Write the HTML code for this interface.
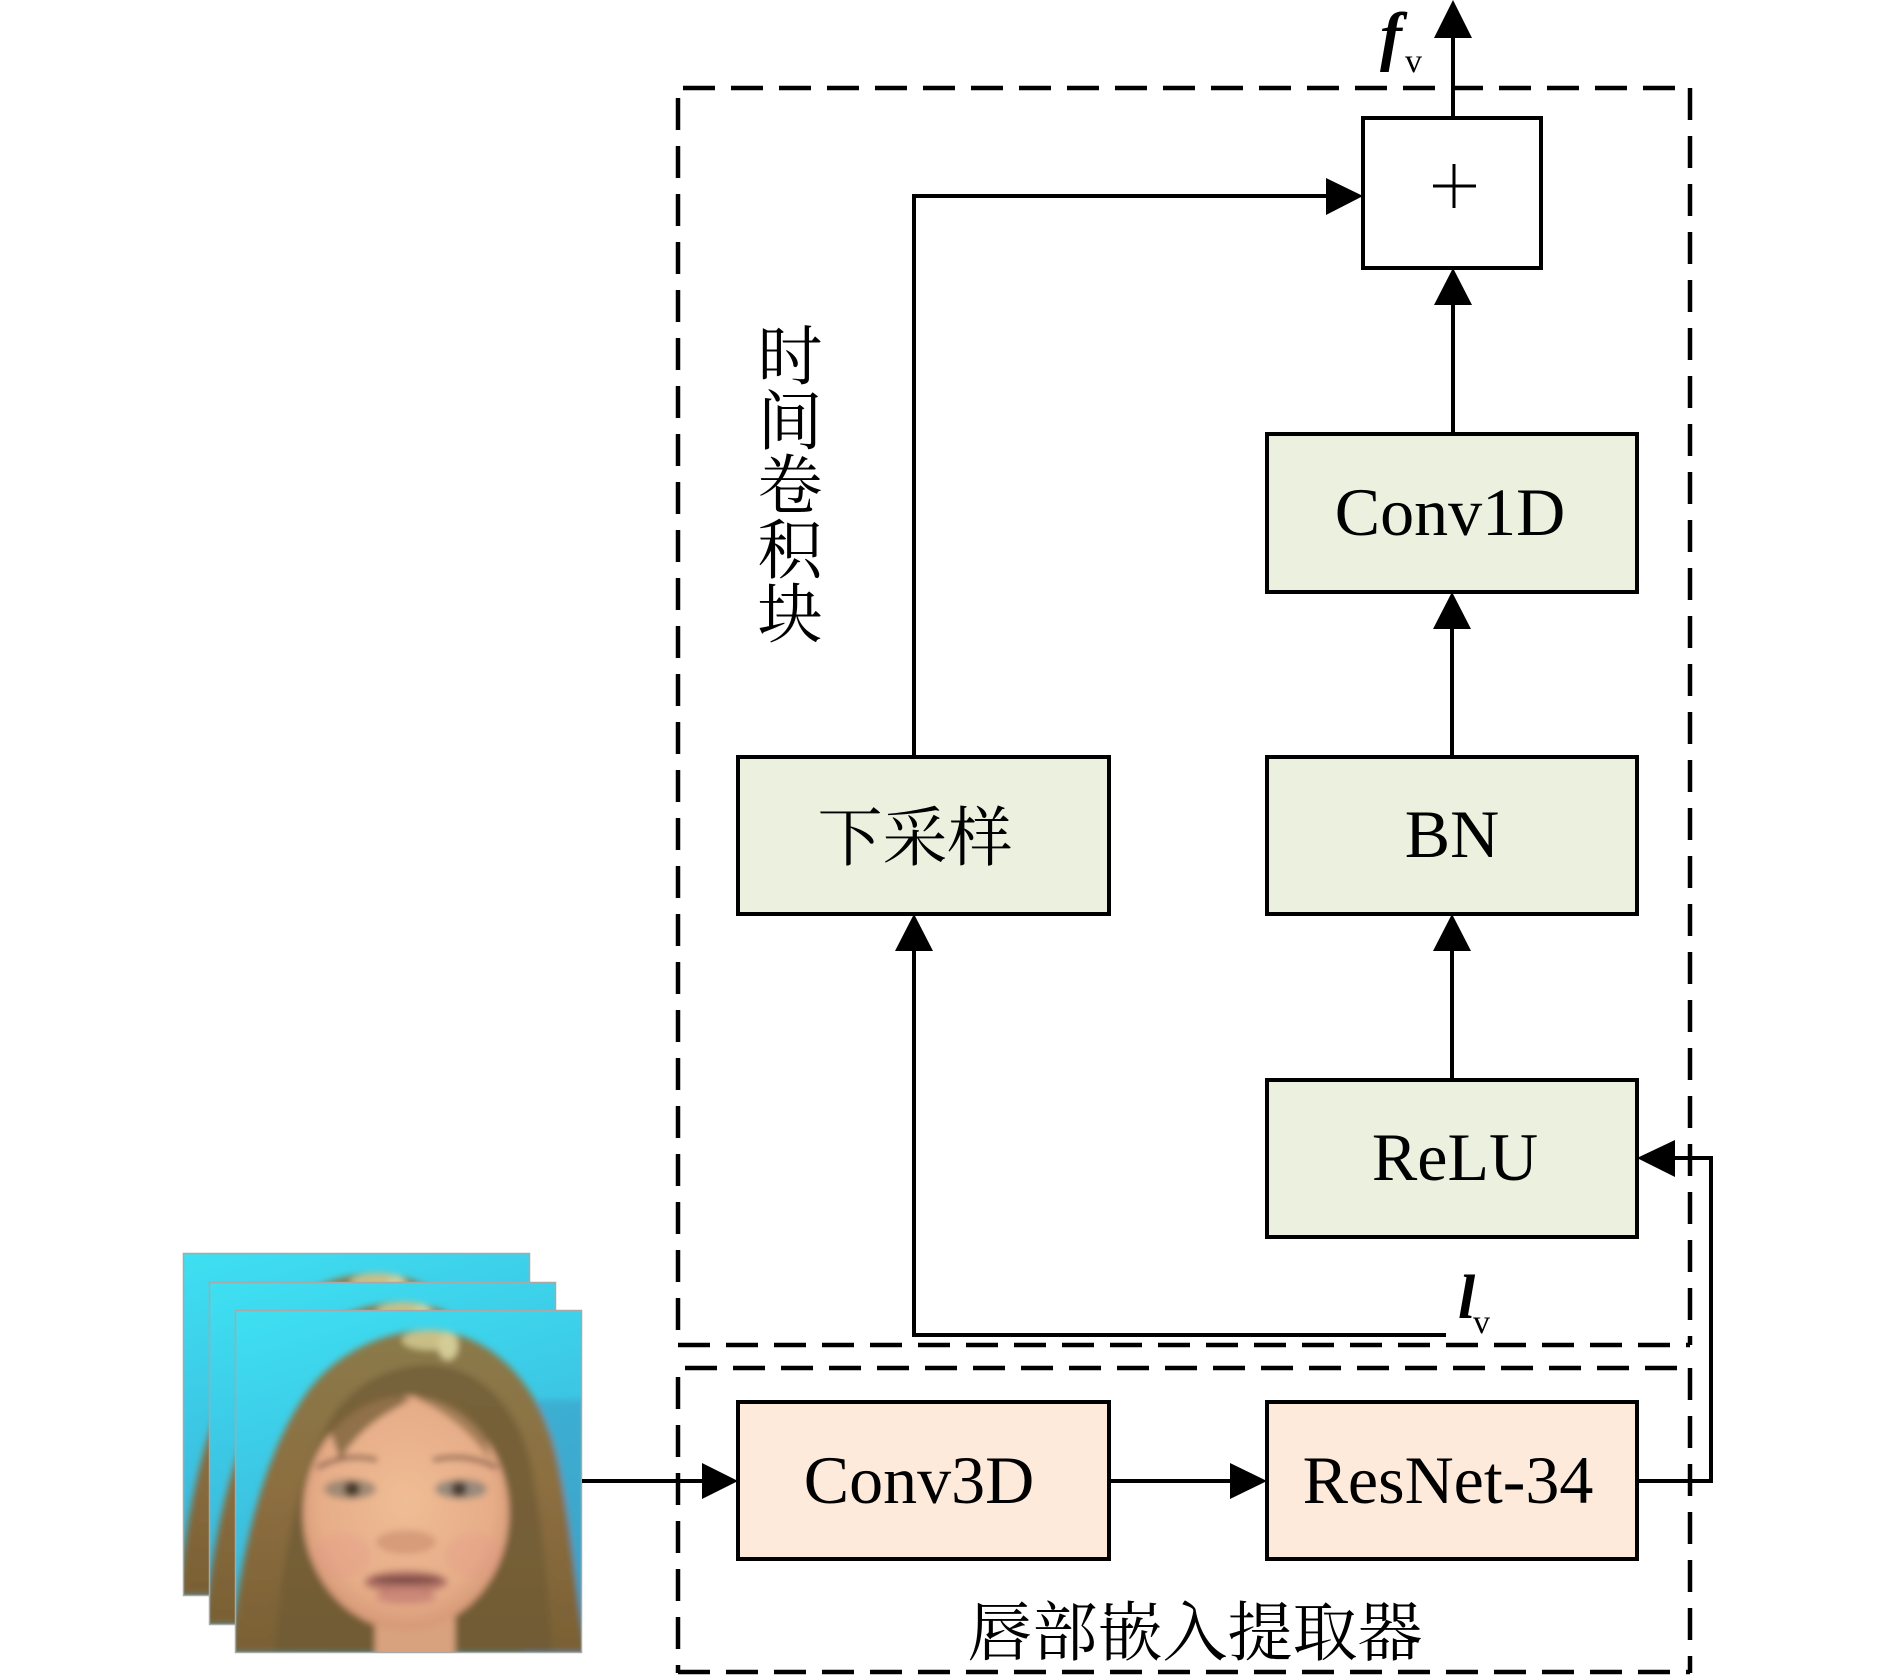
<!DOCTYPE html>
<html>
<head>
<meta charset="utf-8">
<style>
  html,body{margin:0;padding:0;background:#fff;}
  svg{display:block;}
</style>
</head>
<body>
<svg width="1890" height="1675" viewBox="0 0 1890 1675" xmlns="http://www.w3.org/2000/svg">
  <defs>
    <linearGradient id="bg" x1="0" y1="0" x2="0.3" y2="1">
      <stop offset="0" stop-color="#3ee0f2"/>
      <stop offset="0.5" stop-color="#3cc6e4"/>
      <stop offset="1" stop-color="#3fa8cc"/>
    </linearGradient>
    <linearGradient id="hair" x1="0" y1="0" x2="0" y2="1">
      <stop offset="0" stop-color="#8a7a4a"/>
      <stop offset="0.5" stop-color="#8c6e40"/>
      <stop offset="1" stop-color="#7a6034"/>
    </linearGradient>
    <radialGradient id="skin" cx="0.5" cy="0.45" r="0.6">
      <stop offset="0" stop-color="#efbd95"/>
      <stop offset="0.7" stop-color="#e6ad88"/>
      <stop offset="1" stop-color="#cf9070"/>
    </radialGradient>
    <filter id="blur" x="-5%" y="-5%" width="110%" height="110%">
      <feGaussianBlur stdDeviation="3.5"/>
    </filter>
    <clipPath id="clipFace">
      <rect x="0" y="0" width="347" height="343"/>
    </clipPath>
    <g id="face">
      <g clip-path="url(#clipFace)">
        <rect x="0" y="0" width="347" height="343" fill="url(#bg)"/>
        <g filter="url(#blur)">
          <rect x="290" y="90" width="60" height="260" fill="#3a9ec6" opacity="0.6"/>
          <path d="M -5,343 C 5,250 25,150 70,85 C 100,42 150,20 195,20 C 250,22 300,65 320,140 C 335,200 340,280 352,343 Z" fill="url(#hair)"/>
          <path d="M 40,343 C 45,260 60,170 95,110 C 120,70 160,55 195,55 C 240,57 280,90 295,150 C 308,210 312,280 318,343 Z" fill="#6e5a34" opacity="0.7"/>
          <ellipse cx="195" cy="30" rx="28" ry="10" fill="#c9bf86"/>
          <ellipse cx="213" cy="36" rx="10" ry="14" fill="#d4cc96"/>
          <rect x="140" y="290" width="80" height="60" fill="#d9a27e"/>
          <ellipse cx="171" cy="203" rx="103" ry="117" fill="url(#skin)"/>
          <path d="M 95,120 C 120,85 150,75 175,90 C 160,100 130,110 105,150 Z" fill="#7a6238" opacity="0.8"/>
          <path d="M 250,120 C 230,88 205,78 180,88 C 205,100 230,115 255,150 Z" fill="#7a6238" opacity="0.6"/>
          <ellipse cx="108" cy="245" rx="28" ry="22" fill="#e3958a" opacity="0.25"/>
          <ellipse cx="238" cy="245" rx="28" ry="22" fill="#e3958a" opacity="0.25"/>
          <path d="M 82,158 Q 110,142 142,150" stroke="#7a5444" stroke-width="4" fill="none"/>
          <path d="M 198,150 Q 232,142 262,158" stroke="#7a5444" stroke-width="4" fill="none"/>
          <ellipse cx="115" cy="179" rx="26" ry="10" fill="#a08a74"/>
          <ellipse cx="226" cy="179" rx="26" ry="10" fill="#9a8a7c"/>
          <circle cx="117" cy="179" r="8" fill="#4a3a2c"/>
          <circle cx="224" cy="179" r="8" fill="#4a3e36"/>
          <ellipse cx="171" cy="232" rx="30" ry="12" fill="#c98a6c" opacity="0.6"/>
          <ellipse cx="171" cy="272" rx="42" ry="12" fill="#b8786a"/>
          <ellipse cx="171" cy="270" rx="36" ry="4" fill="#7a4a44"/>
          <ellipse cx="171" cy="287" rx="30" ry="7" fill="#cc8878"/>
        </g>
      </g>
      <rect x="0.5" y="0.5" width="346" height="342" fill="none" stroke="#a8a8a8" stroke-width="1.5"/>
    </g>
  </defs>

  <!-- face stack -->
  <use href="#face" x="183" y="1253"/>
  <use href="#face" x="209" y="1282"/>
  <use href="#face" x="235" y="1310"/>

  <!-- dashed boxes -->
  <g stroke="#000" stroke-width="4.5" stroke-dasharray="32 16" fill="none">
    <line x1="683" y1="88" x2="1690" y2="88"/>
    <line x1="1690" y1="88" x2="1690" y2="1345"/>
    <line x1="678" y1="98" x2="678" y2="1345"/>
    <line x1="678" y1="1345" x2="1690" y2="1345"/>
    <line x1="685" y1="1368" x2="1690" y2="1368"/>
    <line x1="678" y1="1377" x2="678" y2="1673"/>
    <line x1="678" y1="1672" x2="1690" y2="1672"/>
    <line x1="1690" y1="1368" x2="1690" y2="1673"/>
  </g>

  <!-- connectors -->
  <g stroke="#000" stroke-width="4" fill="none" stroke-linejoin="miter">
    <line x1="1453" y1="36" x2="1453" y2="118"/>
    <line x1="1453" y1="303" x2="1453" y2="434"/>
    <line x1="1452" y1="627" x2="1452" y2="757"/>
    <line x1="1452" y1="949" x2="1452" y2="1080"/>
    <polyline points="914,757 914,196 1328,196"/>
    <polyline points="1446,1335 914,1335 914,949"/>
    <line x1="582" y1="1481" x2="704" y2="1481"/>
    <line x1="1109" y1="1481" x2="1232" y2="1481"/>
    <polyline points="1637,1481 1711,1481 1711,1158 1673,1158"/>
  </g>

  <!-- arrowheads -->
  <g fill="#000">
    <polygon points="1453,0 1434,38 1472,38"/>
    <polygon points="1363,196 1326,178 1326,215"/>
    <polygon points="1453,268 1434,305 1472,305"/>
    <polygon points="1452,592 1433,629 1471,629"/>
    <polygon points="1452,914 1433,951 1471,951"/>
    <polygon points="914,914 895,951 933,951"/>
    <polygon points="1637,1158 1675,1140 1675,1177"/>
    <polygon points="738,1481 702,1463 702,1499"/>
    <polygon points="1267,1481 1230,1463 1230,1499"/>
  </g>

  <!-- boxes -->
  <g stroke="#000" stroke-width="4">
    <rect x="1363" y="118" width="178" height="150" fill="#fff"/>
    <rect x="1267" y="434" width="370" height="158" fill="#ebf1de"/>
    <rect x="1267" y="757" width="370" height="157" fill="#ebf1de"/>
    <rect x="1267" y="1080" width="370" height="157" fill="#ebf1de"/>
    <rect x="738" y="757" width="371" height="157" fill="#ebf1de"/>
    <rect x="738" y="1402" width="371" height="157" fill="#fdeadb"/>
    <rect x="1267" y="1402" width="370" height="157" fill="#fdeadb"/>
  </g>

  <!-- plus sign -->
  <g stroke="#000" stroke-width="3">
    <line x1="1433" y1="186" x2="1476" y2="186"/>
    <line x1="1454" y1="164" x2="1454" y2="208"/>
  </g>

  <!-- Latin labels -->
  <g font-family="'Liberation Serif', serif" font-size="68" fill="#000" text-anchor="middle">
    <text x="1450" y="535">Conv1D</text>
    <text x="1452" y="857">BN</text>
    <text x="1455" y="1180">ReLU</text>
    <text x="919" y="1503">Conv3D</text>
    <text x="1448" y="1503">ResNet-34</text>
  </g>

  <!-- math labels -->
  <g font-family="'Liberation Serif', serif" fill="#000">
    <text x="1380" y="58" font-size="66" font-weight="bold" font-style="italic">f</text>
    <text x="1405" y="72" font-size="34">v</text>
    <text x="1458" y="1318" font-size="62" font-weight="bold" font-style="italic">l</text>
    <text x="1473" y="1333" font-size="34">v</text>
  </g>

  <!-- CJK labels -->
  <g font-family="'Liberation Serif', 'Noto Serif CJK SC', 'Noto Sans CJK SC', serif" font-size="65" fill="#000" text-anchor="middle">
    <text x="790" y="379">时</text>
    <text x="790" y="444">间</text>
    <text x="790" y="508">卷</text>
    <text x="790" y="573">积</text>
    <text x="790" y="637">块</text>
    <text x="915" y="860">下采样</text>
    <text x="1195" y="1655">唇部嵌入提取器</text>
  </g>
</svg>
</body>
</html>
